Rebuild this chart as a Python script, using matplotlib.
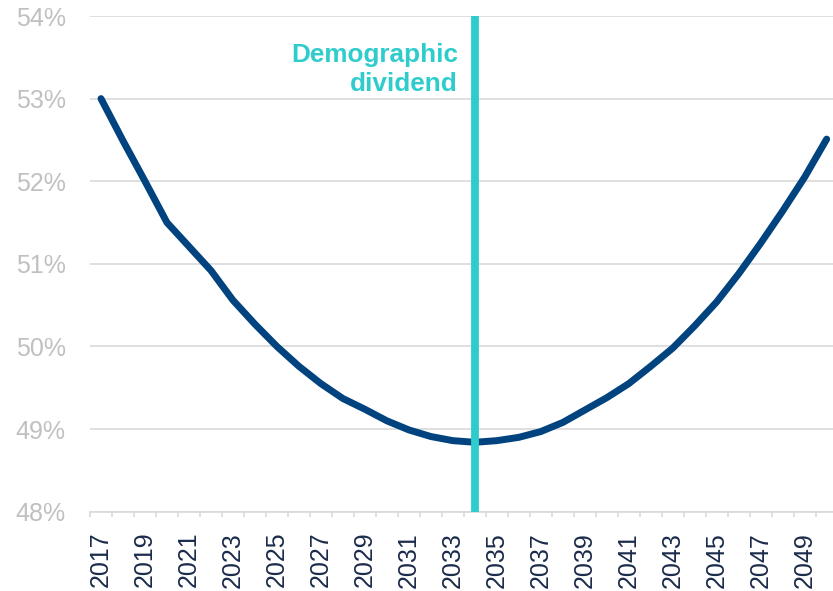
import matplotlib
matplotlib.use("Agg")
import matplotlib.pyplot as plt
from matplotlib.ticker import FixedLocator, FuncFormatter

plt.rcParams['font.family'] = ['Liberation Sans', 'DejaVu Sans']

years = list(range(2017, 2051))
share = [53.00, 52.49, 52.00, 51.50, 51.21, 50.92, 50.56, 50.27, 50.00, 49.76,
         49.55, 49.37, 49.24, 49.10, 48.99, 48.91, 48.86, 48.84, 48.86, 48.90,
         48.97, 49.08, 49.23, 49.38, 49.55, 49.76, 49.98, 50.25, 50.54, 50.88,
         51.25, 51.64, 52.05, 52.51]
y_ticks = [48, 49, 50, 51, 52, 53, 54]
dividend_year = 2034
dividend_label = "Demographic\ndividend"

NAVY = "#00437F"
CYAN = "#2ECCCC"
GRID = "#D9D9D9"

W, H, DPI = 833, 591, 100
fig = plt.figure(figsize=(W / DPI, H / DPI), dpi=DPI)

left_px, top_px, bottom_px = 90, 16, 511.7
cat_w = 21.99
n = len(years)
ax = fig.add_axes([left_px / W, 1 - bottom_px / H,
                   n * cat_w / W, (bottom_px - top_px) / H])

idx = list(range(n))
ax.plot(idx, share, color=NAVY, lw=5.0, solid_capstyle='round',
        solid_joinstyle='round', zorder=3)

d_idx = years.index(dividend_year)
ax.axvline(d_idx, color=CYAN, lw=5.6, zorder=4)
ax.annotate(dividend_label, xy=(d_idx, 0.946), xycoords=('data', 'axes fraction'),
            xytext=(-17, 0), textcoords='offset pixels',
            ha='right', va='top', color=CYAN, fontsize=18.8,
            fontweight='bold', linespacing=1.3)

ax.set_xlim(-0.5, n - 0.5)
ax.set_ylim(48, 54)

ax.yaxis.set_major_locator(FixedLocator(y_ticks))
ax.yaxis.set_major_formatter(FuncFormatter(lambda v, p: f"{v:.0f}%"))
ax.grid(axis='y', color=GRID, lw=1.2, zorder=0)
ax.tick_params(axis='y', length=0, pad=17.5, labelsize=18, labelcolor="#C0C0C0")

ax.set_xticks(idx[::2])
ax.set_xticklabels([str(y) for y in years[::2]], rotation=90)
ax.set_xticks([i - 0.5 for i in range(n + 1)], minor=True)
ax.tick_params(axis='x', which='major', length=0, pad=14.5, labelsize=18,
               labelcolor="#1B2B4B")
ax.tick_params(axis='x', which='minor', length=3.5, width=1.2, color=GRID)

for s in ['top', 'right', 'left']:
    ax.spines[s].set_visible(False)
ax.spines['bottom'].set_color(GRID)
ax.spines['bottom'].set_linewidth(1.2)

fig.savefig("out.png", dpi=DPI)
